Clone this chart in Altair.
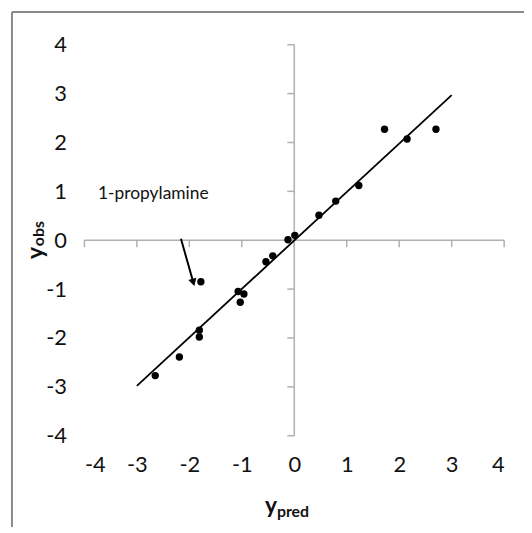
import altair as alt
import pandas as pd

# observed vs predicted points
y_pred = [-2.65, -2.19, -1.81, -1.81, -1.78, -1.07, -0.96, -1.03, -0.54, -0.41,
          -0.12, 0.01, 0.47, 0.79, 1.23, 1.72, 2.15, 2.70]
y_obs = [-2.77, -2.39, -1.84, -1.98, -0.85, -1.05, -1.10, -1.27, -0.44, -0.32,
         0.01, 0.10, 0.51, 0.80, 1.12, 2.27, 2.07, 2.27]

# fitted line
line_x = [-3.0, 3.0]
line_y = [-2.98, 2.97]

# tick values
ticks = [-4, -3, -2, -1, 0, 1, 2, 3, 4]

# annotation
label_text = "1-propylamine"
label_pos = (-3.74, 0.94)
arrow_start = (-2.16, 0.03)
arrow_end = (-1.924, -0.864)

W, H = 423, 394
FONT = "Lato"
AX_COLOR = "#b0b0b0"
BORDER_COLOR = "#8a8a8a"
LABEL_EXPR = "toString(datum.value)"

xs = alt.Scale(domain=[-4, 4], nice=False, zero=False)
ys = alt.Scale(domain=[-4, 4], nice=False, zero=False)

pts_df = pd.DataFrame({"x": y_pred, "y": y_obs})
line_df = pd.DataFrame({"x": line_x, "y": line_y})
tick_df = pd.DataFrame({"t": ticks, "zero": [0] * len(ticks)})
axis_df = pd.DataFrame({"x": [-4, 0], "x2": [4, 0], "y": [0, -4], "y2": [0, 4]})

base_axes = alt.Chart(pts_df).mark_circle(size=0, opacity=0).encode(
    x=alt.X("x:Q", scale=xs, title=None,
            axis=alt.Axis(values=ticks, domain=False, ticks=False, grid=False,
                          labelFont=FONT, labelFontSize=22, labelColor="#111",
                          labelPadding=19, labelExpr=LABEL_EXPR)),
    y=alt.Y("y:Q", scale=ys, title=None,
            axis=alt.Axis(values=ticks, domain=False, ticks=False, grid=False,
                          labelFont=FONT, labelFontSize=22, labelColor="#111",
                          labelPadding=18, labelExpr=LABEL_EXPR)),
)

one = pd.DataFrame({"a": [0]})
border_top = alt.Chart(one).mark_rule(color=BORDER_COLOR, strokeWidth=2).encode(
    x=alt.value(-73), x2=alt.value(470), y=alt.value(-33))
border_left = alt.Chart(one).mark_rule(color=BORDER_COLOR, strokeWidth=2).encode(
    x=alt.value(-73), y=alt.value(-33), y2=alt.value(520))

axis_lines = alt.Chart(axis_df).mark_rule(color=AX_COLOR, strokeWidth=1.5).encode(
    x=alt.X("x:Q", scale=xs), x2="x2:Q",
    y=alt.Y("y:Q", scale=ys), y2="y2:Q",
)

xticks = alt.Chart(tick_df).mark_rule(color=AX_COLOR, strokeWidth=1.5, y2Offset=7).encode(
    x=alt.X("t:Q", scale=xs), y=alt.Y("zero:Q", scale=ys), y2="zero:Q"
)
yticks = alt.Chart(tick_df).mark_rule(color=AX_COLOR, strokeWidth=1.5, x2Offset=-7).encode(
    y=alt.Y("t:Q", scale=ys), x=alt.X("zero:Q", scale=xs), x2="zero:Q"
)

fit = alt.Chart(line_df).mark_line(color="black", strokeWidth=1.8).encode(
    x=alt.X("x:Q", scale=xs), y=alt.Y("y:Q", scale=ys)
)

points = alt.Chart(pts_df).mark_circle(size=55, color="black", opacity=1).encode(
    x=alt.X("x:Q", scale=xs), y=alt.Y("y:Q", scale=ys)
)

arrow_df = pd.DataFrame({"x": [arrow_start[0]], "y": [arrow_start[1]],
                         "x2": [arrow_end[0]], "y2": [arrow_end[1]]})
arrow_line = alt.Chart(arrow_df).mark_rule(color="black", strokeWidth=2).encode(
    x=alt.X("x:Q", scale=xs), y=alt.Y("y:Q", scale=ys), x2="x2:Q", y2="y2:Q"
)
arrow_head = alt.Chart(arrow_df).mark_point(
    shape="triangle-up", filled=True, color="black", opacity=1, size=70, angle=164
).encode(x=alt.X("x2:Q", scale=xs), y=alt.Y("y2:Q", scale=ys))

label = alt.Chart(pd.DataFrame({"x": [label_pos[0]], "y": [label_pos[1]], "t": [label_text]})).mark_text(
    font=FONT, fontSize=17.5, align="left", baseline="middle", color="#111"
).encode(x=alt.X("x:Q", scale=xs), y=alt.Y("y:Q", scale=ys), text="t:N")

xt_main = alt.Chart(one).mark_text(text="y", font=FONT, fontSize=23, fontWeight="bold",
                                   align="left", baseline="alphabetic", color="#111").encode(
    x=alt.value(182), y=alt.value(472))
xt_sub = alt.Chart(one).mark_text(text="pred", font=FONT, fontSize=16, fontWeight="bold",
                                  align="left", baseline="alphabetic", color="#111").encode(
    x=alt.value(194), y=alt.value(476))
yt_main = alt.Chart(one).mark_text(text="y", font=FONT, fontSize=23, fontWeight="bold", angle=270,
                                   align="left", baseline="alphabetic", color="#111").encode(
    x=alt.value(-42), y=alt.value(216))
yt_sub = alt.Chart(one).mark_text(text="obs", font=FONT, fontSize=16, fontWeight="bold", angle=270,
                                  align="left", baseline="alphabetic", color="#111").encode(
    x=alt.value(-41), y=alt.value(203))

chart = alt.layer(
    base_axes, border_top, border_left, axis_lines, xticks, yticks, fit, points,
    arrow_line, arrow_head, label, xt_main, xt_sub, yt_main, yt_sub
).properties(
    width=W, height=H,
    autosize=alt.AutoSizeParams(type="none"),
    padding={"left": 77, "top": 35, "right": 20, "bottom": 90},
    background="white",
).configure_view(stroke=None)

chart.save("out.html", embed_options={"renderer": "svg", "actions": False})
